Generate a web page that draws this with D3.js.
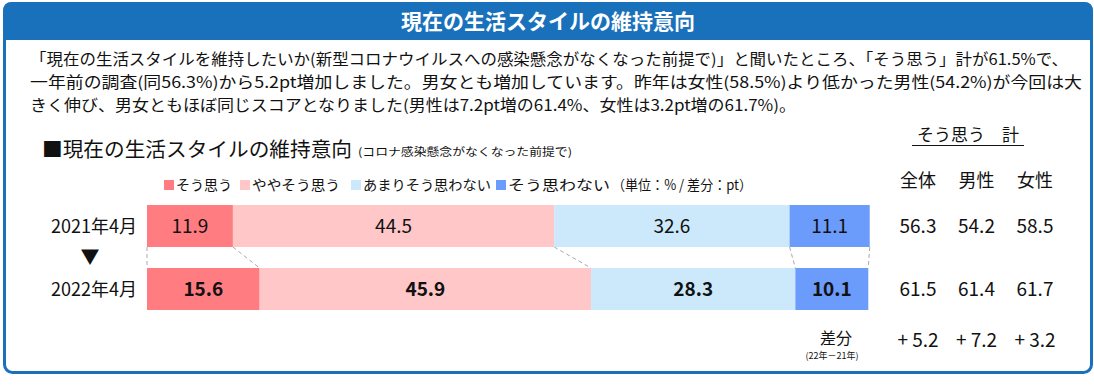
<!DOCTYPE html>
<html>
<head>
<meta charset="utf-8">
<script src="https://cdn.jsdelivr.net/npm/d3@7"></script>
<style>
  body { margin: 0; background: #fff; }
  svg { display: block; font-family: "Noto Sans CJK JP", "Noto Sans", sans-serif; }
</style>
</head>
<body>
<svg width="1094" height="388"></svg>
<script>
const categories = ["そう思う", "ややそう思う", "あまりそう思わない", "そう思わない"];
const years = ["2021年4月", "2022年4月"];
const values2021 = [11.9, 44.5, 32.6, 11.1];
const values2022 = [15.6, 45.9, 28.3, 10.1];
const groups = ["全体", "男性", "女性"];
const total2021 = [56.3, 54.2, 58.5];
const total2022 = [61.5, 61.4, 61.7];
const diffs = [5.2, 7.2, 3.2];
const colors = ["#ff7c80", "#ffc7c8", "#cce9fc", "#6b9bfb"];

const paragraph = [
  "「現在の生活スタイルを維持したいか(新型コロナウイルスへの感染懸念がなくなった前提で)」と聞いたところ、「そう思う」計が61.5%で、",
  "一年前の調査(同56.3%)から5.2pt増加しました。男女とも増加しています。昨年は女性(58.5%)より低かった男性(54.2%)が今回は大",
  "きく伸び、男女ともほぼ同じスコアとなりました(男性は7.2pt増の61.4%、女性は3.2pt増の61.7%)。"
];
const paragraphEnds = [1068, 1082, 796];

const blue = "#1a71bb";
const svg = d3.select("svg");

// frame + header
svg.append("rect")
  .attr("x", 4.5).attr("y", 3.5).attr("width", 1087).attr("height", 369)
  .attr("rx", 8).attr("fill", "#fff").attr("stroke", blue).attr("stroke-width", 3);
svg.append("path")
  .attr("d", "M3,40 L3,11 Q3,2 12,2 L1084,2 Q1093,2 1093,11 L1093,40 Z")
  .attr("fill", blue);
svg.append("text")
  .attr("x", 548).attr("y", 29)
  .attr("text-anchor", "middle")
  .attr("fill", "#fff").attr("font-size", 21).attr("font-weight", "bold")
  .text("現在の生活スタイルの維持意向");

// paragraph
svg.selectAll(".para")
  .data(paragraph)
  .join("text")
  .attr("class", "para")
  .attr("x", 30)
  .attr("y", (d, i) => 65 + i * 23)
  .attr("font-size", 15.5)
  .attr("fill", "#111")
  .attr("textLength", (d, i) => paragraphEnds[i] - 30)
  .attr("lengthAdjust", "spacingAndGlyphs")
  .text(d => d);

// subtitle
svg.append("text")
  .attr("x", 42).attr("y", 157)
  .attr("font-size", 20).attr("fill", "#111")
  .attr("textLength", 310).attr("lengthAdjust", "spacingAndGlyphs")
  .text("■現在の生活スタイルの維持意向");
svg.append("text")
  .attr("x", 358).attr("y", 156)
  .attr("font-size", 11).attr("fill", "#111")
  .attr("textLength", 214).attr("lengthAdjust", "spacingAndGlyphs")
  .text("(コロナ感染懸念がなくなった前提で)");

// legend
const legendX = [164, 240, 351, 496];
const legendW = [56, 88, 128, 102];
const legend = svg.selectAll(".legend")
  .data(categories)
  .join("g")
  .attr("class", "legend")
  .attr("transform", (d, i) => `translate(${legendX[i]}, 180)`);
legend.append("rect")
  .attr("width", 10).attr("height", 10)
  .attr("fill", (d, i) => colors[i]);
legend.append("text")
  .attr("x", 12).attr("y", 10)
  .attr("font-size", 14).attr("fill", "#111")
  .attr("textLength", (d, i) => legendW[i])
  .attr("lengthAdjust", "spacingAndGlyphs")
  .text(d => d);
svg.append("text")
  .attr("x", 612).attr("y", 190)
  .attr("font-size", 14).attr("fill", "#111")
  .attr("textLength", 140).attr("lengthAdjust", "spacingAndGlyphs")
  .text("（単位：% / 差分：pt）");

// bars
const xScale = d3.scaleLinear().domain([0, 100]).range([147, 869]);
const yScale = d3.scaleBand().domain(years).range([205, 310]).paddingInner(1 / 3);

function stackRow(values) {
  let acc = 0;
  return values.map((v, i) => {
    const s = { start: acc, end: acc + v, value: v, index: i };
    acc += v;
    return s;
  });
}
const rows = [stackRow(values2021), stackRow(values2022)];

// connectors between rows
const bounds21 = [0].concat(rows[0].map(d => d.end));
const bounds22 = [0].concat(rows[1].map(d => d.end));
svg.selectAll(".conn")
  .data(bounds21)
  .join("line")
  .attr("class", "conn")
  .attr("x1", d => xScale(d))
  .attr("y1", yScale(years[0]) + yScale.bandwidth())
  .attr("x2", (d, i) => xScale(bounds22[i]))
  .attr("y2", yScale(years[1]))
  .attr("stroke", "#aaa").attr("stroke-width", 1)
  .attr("stroke-dasharray", "4,3");

rows.forEach((row, r) => {
  const g = svg.append("g");
  g.selectAll("rect")
    .data(row)
    .join("rect")
    .attr("x", d => xScale(d.start))
    .attr("y", yScale(years[r]))
    .attr("width", d => xScale(d.end) - xScale(d.start))
    .attr("height", yScale.bandwidth())
    .attr("fill", d => colors[d.index]);
  g.selectAll("text")
    .data(row)
    .join("text")
    .attr("x", d => (xScale(d.start) + xScale(d.end)) / 2)
    .attr("y", yScale(years[r]) + yScale.bandwidth() / 2 + 7)
    .attr("text-anchor", "middle")
    .attr("font-size", 19)
    .attr("font-weight", r === 1 ? "bold" : "normal")
    .attr("fill", "#111")
    .text(d => d.value.toFixed(1));
});

// row labels
svg.selectAll(".rowlabel")
  .data(years)
  .join("text")
  .attr("class", "rowlabel")
  .attr("x", 137)
  .attr("y", d => yScale(d) + yScale.bandwidth() / 2 + 7)
  .attr("text-anchor", "end")
  .attr("font-size", 18).attr("fill", "#111")
  .text(d => d);
svg.append("text")
  .attr("x", 90).attr("y", 264)
  .attr("text-anchor", "middle")
  .attr("font-size", 19).attr("fill", "#111")
  .text("▼");

// right table
const colScale = d3.scalePoint().domain(groups).range([918, 1035]);
svg.append("text")
  .attr("x", 968).attr("y", 141)
  .attr("text-anchor", "middle")
  .attr("font-size", 17).attr("fill", "#111")
  .text("そう思う　計");
svg.append("line")
  .attr("x1", 912).attr("x2", 1024)
  .attr("y1", 145.5).attr("y2", 145.5)
  .attr("stroke", "#111").attr("stroke-width", 1);

svg.selectAll(".grp")
  .data(groups)
  .join("text")
  .attr("class", "grp")
  .attr("x", d => colScale(d))
  .attr("y", 187)
  .attr("text-anchor", "middle")
  .attr("font-size", 18).attr("fill", "#111")
  .text(d => d);

[total2021, total2022].forEach((vals, r) => {
  svg.selectAll(".tot" + r)
    .data(vals)
    .join("text")
    .attr("class", "tot" + r)
    .attr("x", (d, i) => colScale(groups[i]))
    .attr("y", yScale(years[r]) + yScale.bandwidth() / 2 + 7)
    .attr("text-anchor", "middle")
    .attr("font-size", 19).attr("fill", "#111")
    .text(d => d.toFixed(1));
});

svg.selectAll(".diff")
  .data(diffs)
  .join("text")
  .attr("class", "diff")
  .attr("x", (d, i) => colScale(groups[i]))
  .attr("y", 347)
  .attr("text-anchor", "middle")
  .attr("font-size", 19).attr("fill", "#111")
  .text(d => "+ " + d.toFixed(1));

svg.append("text")
  .attr("x", 836).attr("y", 344)
  .attr("text-anchor", "middle")
  .attr("font-size", 16).attr("fill", "#111")
  .text("差分");
svg.append("text")
  .attr("x", 832).attr("y", 359)
  .attr("text-anchor", "middle")
  .attr("font-size", 9).attr("fill", "#111")
  .text("(22年－21年)");
</script>
</body>
</html>
